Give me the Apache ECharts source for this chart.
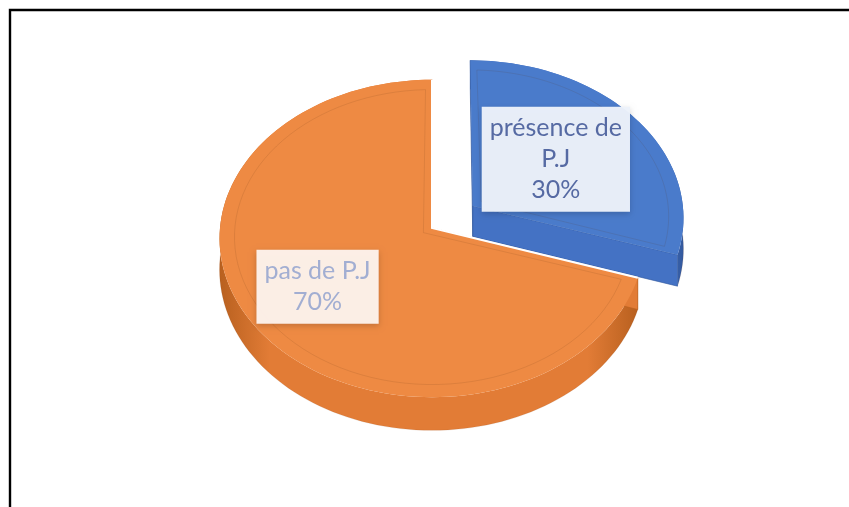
<!DOCTYPE html>
<html>
<head>
<meta charset="utf-8">
<script src="https://cdn.jsdelivr.net/npm/echarts@6/dist/echarts.min.js"></script>
<style>
  html, body { margin: 0; padding: 0; background: #ffffff; }
  #chart { width: 849px; height: 507px; }
</style>
</head>
<body>
<div id="chart"></div>
<script>
// Share of files with / without an attached document (P.J)
const categories = ['présence de P.J', 'pas de P.J'];
const values = [30, 70];

// Colours for the slices (top face, walls) and their data labels
const topColors = ['#4a7bcb', '#ee8a43'];
const wallColors = ['#4472c4', '#e27c36'];
const wallDark = ['#33599e', '#b8601f'];
const labelFills = ['rgba(236,242,250,0.97)', 'rgba(253,242,235,0.97)'];
const labelInk = ['#566aa3', '#a2aed2'];

// Disc projection: tilted, with mild perspective
const CX = 432, CY = 228;      // apex of the pie on screen
const RX = 212, RY = 158;      // half axes of the top face
const PERSP = -0.066;          // perspective factor (near side grows)
const DEPTH = 31;              // thickness of the disc
const EXPLODE = [0.24, 0];     // radial pull-out per slice
const LABEL_SPOTS = [[0.51, 37], [0.64, 214.6]]; // [radius, angle] of label centres

function proj(u, v, z) {
  const w = 1 - PERSP * v;
  return [CX + RX * u / w, CY - RY * v / w + (z || 0) / w];
}

const total = values.reduce((a, b) => a + b, 0);

// slice angles, clockwise from 12 o'clock (math degrees)
const slices = [];
let acc = 90;
values.forEach(function (v) {
  const sweep = v / total * 360;
  slices.push({ a0: acc, a1: acc - sweep });
  acc -= sweep;
});

// word wrap for the labels, measured with the label font
const LABEL_FONT = '25px Lato';
const measureCtx = document.createElement('canvas').getContext('2d');
measureCtx.font = LABEL_FONT;
function wrap(text, maxW) {
  const words = text.split(' ');
  const lines = [];
  let cur = '';
  words.forEach(function (w) {
    const t = cur ? cur + ' ' + w : w;
    if (cur && measureCtx.measureText(t).width > maxW) { lines.push(cur); cur = w; }
    else cur = t;
  });
  if (cur) lines.push(cur);
  return lines.join('\n');
}

function arcPoints(ox, oy, a0, a1, z) {
  const pts = [];
  const n = Math.max(4, Math.ceil(Math.abs(a0 - a1) / 2));
  for (let i = 0; i <= n; i++) {
    const a = (a0 + (a1 - a0) * i / n) * Math.PI / 180;
    pts.push(proj(ox + Math.cos(a), oy + Math.sin(a), z));
  }
  return pts;
}

function renderItem(params, api) {
  const i = params.dataIndex;
  const val = api.value(0);
  const s = slices[i];
  const mid = (s.a0 + s.a1) / 2 * Math.PI / 180;
  const ox = EXPLODE[i] * Math.cos(mid), oy = EXPLODE[i] * Math.sin(mid);
  const children = [];

  // outer wall (the part below the top face stays visible)
  const topArc = arcPoints(ox, oy, s.a0, s.a1, 0);
  const botArc = arcPoints(ox, oy, s.a0, s.a1, DEPTH);
  const wall = topArc.concat(botArc.slice().reverse());
  children.push({
    type: 'polygon',
    shape: { points: wall },
    style: {
      fill: new echarts.graphic.LinearGradient(0, 0, 1, 0, [
        { offset: 0, color: wallDark[i] },
        { offset: 0.12, color: wallColors[i] },
        { offset: 0.5, color: wallColors[i] },
        { offset: 0.88, color: wallColors[i] },
        { offset: 1, color: wallDark[i] }
      ])
    }
  });
  children.push({
    type: 'polyline',
    shape: { points: botArc },
    style: { stroke: 'rgba(120,60,20,0.12)', lineWidth: 1, fill: null }
  });

  // radial cut faces
  [s.a0, s.a1].forEach(function (a) {
    const r = a * Math.PI / 180;
    const p0 = proj(ox, oy, 0), p1 = proj(ox + Math.cos(r), oy + Math.sin(r), 0);
    const p2 = proj(ox + Math.cos(r), oy + Math.sin(r), DEPTH), p3 = proj(ox, oy, DEPTH);
    children.push({
      type: 'polygon',
      shape: { points: [p0, p1, p2, p3] },
      style: { fill: wallColors[i], stroke: wallDark[i], lineWidth: 0.6 }
    });
  });

  // top face
  const apex = proj(ox, oy, 0);
  children.push({
    type: 'polygon',
    shape: { points: [apex].concat(topArc) },
    style: { fill: topColors[i] }
  });
  // thin white seam along the radial edges of the front slice
  if (EXPLODE[i] === 0) {
    children.push({
      type: 'polyline',
      shape: { points: [topArc[0], apex, topArc[topArc.length - 1]] },
      style: { stroke: '#ffffff', lineWidth: 2, fill: null }
    });
  }
  // bevel: faint inset outline on the top face
  const inset = 0.93;
  const iox = ox + 0.05 * Math.cos(mid), ioy = oy + 0.05 * Math.sin(mid);
  const innerArc = [];
  const n = 80;
  for (let k = 0; k <= n; k++) {
    const a = (s.a0 - 2 + (s.a1 - s.a0 + 4) * k / n) * Math.PI / 180;
    innerArc.push(proj(ox + inset * Math.cos(a), oy + inset * Math.sin(a), 0));
  }
  children.push({
    type: 'polygon',
    shape: { points: [proj(iox, ioy, 0)].concat(innerArc) },
    style: { fill: null, stroke: 'rgba(90,50,20,0.12)', lineWidth: 1 }
  });

  // data label
  const spot = LABEL_SPOTS[i];
  const la = spot[1] * Math.PI / 180;
  const lp = proj(ox + spot[0] * Math.cos(la), oy + spot[0] * Math.sin(la), 0);
  const pct = Math.round(val / total * 100) + '%';
  children.push({
    type: 'text',
    x: lp[0], y: lp[1],
    z2: 100,
    style: {
      text: wrap(categories[i], 140) + '\n' + pct,
      font: LABEL_FONT,
      fill: labelInk[i],
      align: 'center',
      verticalAlign: 'middle',
      lineHeight: 31,
      backgroundColor: labelFills[i],
      padding: [6, 8, 6, 8],
      shadowBlur: 6,
      shadowColor: 'rgba(0,0,0,0.18)',
      shadowOffsetY: 2
    }
  });

  return { type: 'group', children: children };
}

const chart = echarts.init(document.getElementById('chart'), null, { renderer: 'canvas' });
chart.setOption({
  backgroundColor: '#ffffff',
  animation: false,
  graphic: [{
    type: 'polyline',
    shape: { points: [[10, 520], [10, 10], [860, 10]] },
    style: { stroke: '#000000', lineWidth: 2.4, fill: null }
  }],
  series: [{
    type: 'custom',
    coordinateSystem: 'none',
    renderItem: renderItem,
    data: values.map((v, k) => ({ name: categories[k], value: [v] }))
  }]
});
</script>
</body>
</html>
